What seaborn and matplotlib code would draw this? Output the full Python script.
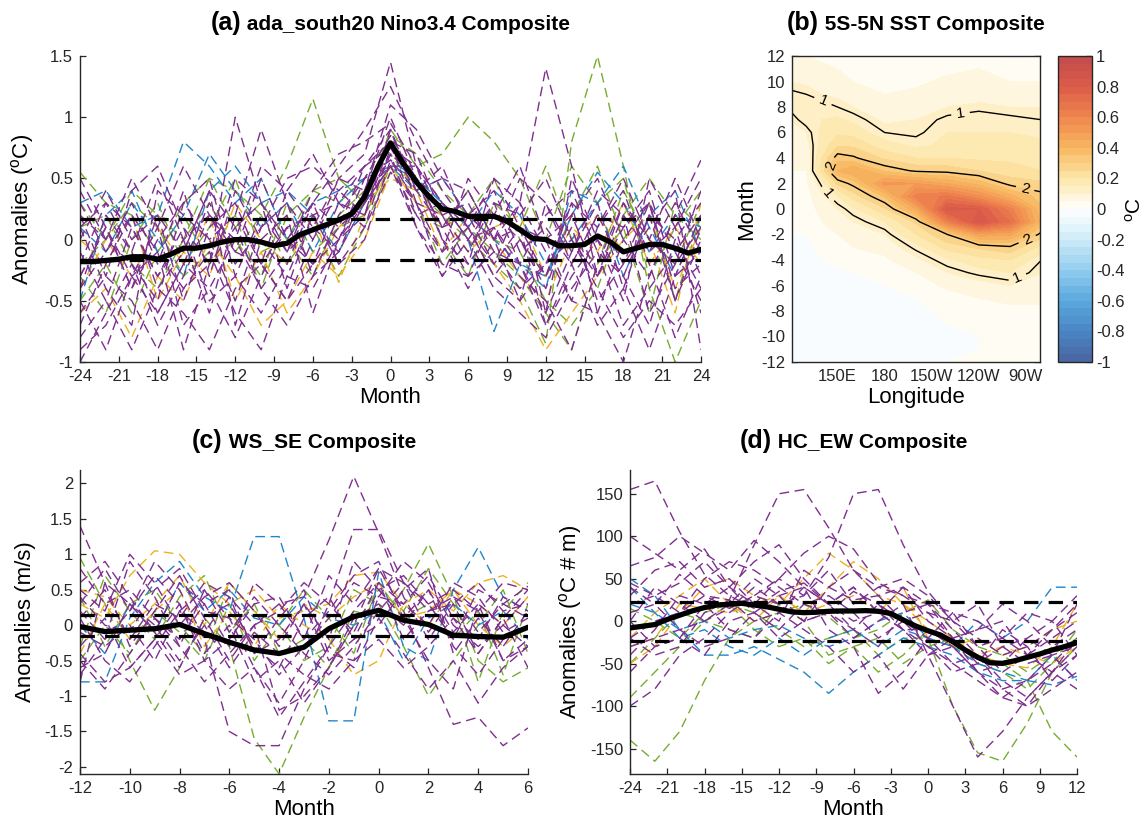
import numpy as np
import pandas as pd
import matplotlib
matplotlib.use("Agg")
import matplotlib.pyplot as plt
import seaborn as sns
from matplotlib.colors import LinearSegmentedColormap, ListedColormap, BoundaryNorm
from matplotlib.offsetbox import TextArea, HPacker, AnchoredOffsetbox
from matplotlib.ticker import FuncFormatter

# ---------------- colours ----------------
PURPLE = "#7e2f8e"
GREEN = "#77ac30"
ORANGE = "#edb120"
BLUE = "#1f86cc"

# ---------------- panel (a) data ----------------
a_months = list(range(-24, 25, 2))
a_purple = [
    [-0.3, 0.1, -0.4, 0.2, -0.5, 0.1, 0.3, -0.2, 0.4, 0.1, 0.5, 0.7, 1.45, 0.6, 0.2, -0.1, 0.3, -0.2, -0.6, -0.1, 0.3, -0.4, 0.2, -0.5, 0.1],
    [-1.0, -0.6, -0.2, -0.7, -0.3, 0.2, -0.1, 0.5, 0.0, 0.3, 0.6, 0.9, 1.25, 0.8, 0.4, 0.1, -0.2, 0.3, 1.4, 0.6, -0.3, 0.2, -0.6, -0.2, 0.4],
    [0.2, -0.3, 0.4, 0.6, 0.1, -0.2, 1.0, 0.3, -0.4, 0.2, 0.0, 0.4, 1.1, 0.9, 0.5, 0.4, 0.0, -0.5, -0.2, 0.3, -0.6, -1.0, -0.3, 0.2, 0.65],
    [-0.5, -0.9, -0.3, 0.1, -0.7, -0.4, -0.8, -0.3, 0.1, -0.2, 0.3, 0.2, 0.9, 0.3, -0.1, 0.5, 0.2, 0.6, 0.0, -0.5, 0.1, 0.4, -0.2, -0.8, -0.3],
    [0.4, 0.0, -0.2, -0.5, 0.3, 0.5, -0.3, -0.6, -0.2, 0.3, 0.1, 0.6, 0.75, 0.4, 0.6, 0.1, -0.3, 0.0, -0.4, 0.2, 0.5, 0.0, 0.3, -0.4, -0.2],
    [-0.2, 0.3, 0.1, -0.3, 0.0, -0.6, 0.2, 0.9, 0.3, -0.3, 0.2, 0.5, 0.85, 0.5, 0.0, -0.2, 0.5, 0.1, -0.7, -0.3, 0.0, -0.5, 0.5, 0.1, -0.6],
    [-0.7, -0.2, 0.2, -0.1, -0.9, -0.2, 0.1, -0.4, -0.7, -0.3, -0.1, 0.3, 0.6, 0.2, 0.3, 0.0, 0.1, -0.3, -0.5, -0.9, -0.2, 0.3, -0.1, 0.3, -0.1],
    [0.1, -0.4, -0.7, 0.4, 0.2, 0.0, -0.5, 0.1, 0.5, 0.6, 0.4, 0.6, 0.8, 0.7, 0.2, 0.3, -0.1, -0.2, 0.2, 0.4, -0.1, -0.3, -0.7, 0.0, 0.3],
    [-0.4, 0.2, -0.1, -0.6, -0.2, 0.3, -0.1, -0.2, -0.5, 0.0, 0.4, 0.2, 0.7, 0.1, -0.2, -0.3, 0.2, 0.0, -0.3, 0.1, -0.5, -0.2, 0.1, 0.4, -0.9],
    [0.3, -0.1, 0.3, -0.2, 0.4, -0.3, 0.4, 0.0, 0.2, -0.6, 0.0, 0.5, 0.65, 0.4, 0.1, 0.2, 0.4, -0.1, 0.1, -0.2, 0.2, 0.1, 0.4, -0.3, 0.2],
    [-0.6, -0.3, -0.5, -0.9, -0.4, -0.1, -0.6, -0.9, -0.3, 0.2, -0.2, 0.1, 0.55, 0.3, -0.3, 0.0, -0.4, -0.6, -0.8, -0.4, -0.1, -0.7, -0.4, -0.1, -0.5],
    [0.0, 0.4, 0.0, 0.2, -0.1, 0.4, 0.1, 0.3, -0.1, 0.4, 0.7, 0.8, 0.95, 0.6, 0.3, 0.0, 0.3, 0.2, 0.5, 0.0, -0.3, 0.3, 0.0, 0.5, 0.0],
    [-0.8, -0.5, -0.9, -0.4, -0.6, -0.9, -0.4, -0.2, -0.5, -0.2, 0.1, 0.3, 0.7, 0.5, 0.1, -0.3, -0.1, -0.4, -0.2, 0.0, -0.4, -0.8, -0.5, -0.7, -0.4],
    [0.2, 0.0, 0.5, 0.1, 0.6, 0.2, 0.0, 0.6, 0.4, 0.7, 0.3, 0.6, 0.9, 0.4, 0.5, 0.2, 0.0, 0.5, 0.3, -0.1, 0.4, 0.2, -0.1, 0.1, 0.5],
    [-0.1, -0.5, 0.1, -0.3, 0.1, -0.5, -0.3, 0.2, -0.1, 0.1, -0.1, 0.4, 0.6, 0.6, 0.0, -0.4, 0.0, 0.3, -0.1, -0.5, -0.6, 0.0, -0.3, 0.2, -0.3],
    [-0.3, 0.1, -0.4, 0.0, 0.3, 0.0, 0.2, -0.2, 0.1, 0.2, 0.3, 0.1, 0.75, 0.6, 0.3, 0.1, -0.3, -0.5, 0.3, -0.2, 0.2, -0.2, 0.3, -0.1, 0.2],
    [0.5, 0.1, -0.3, -0.1, -0.4, -0.2, 0.5, 0.3, 0.0, -0.2, 0.0, 0.2, 0.8, 0.2, -0.1, 0.1, 0.5, 0.3, -0.6, 0.5, 0.0, -0.3, 0.2, 0.0, -0.4],
    [-0.9, -0.7, -0.3, -0.6, -0.2, -0.4, 0.0, -0.4, -0.1, 0.3, -0.2, 0.0, 0.65, 0.3, 0.2, -0.2, 0.1, -0.2, -0.7, -0.2, -0.7, -0.4, -0.9, -0.3, -0.1],
    [0.1, 0.3, -0.1, 0.5, 0.0, 0.2, -0.2, 0.1, 0.3, 0.0, 0.5, 0.4, 1.0, 0.5, 0.1, 0.4, 0.0, 0.1, -0.3, 0.3, 0.1, 0.5, 0.0, -0.2, 0.1],
    [-0.4, -0.1, 0.2, -0.4, -0.1, 0.4, -0.7, 0.0, -0.3, -0.4, 0.0, 0.3, 0.6, 0.1, -0.3, 0.2, -0.2, 0.1, 0.0, 0.2, -0.3, 0.1, 0.3, -0.5, 0.0],
]
a_green = [
    [0.55, 0.3, 0.2, -0.1, 0.3, 0.5, 0.4, 0.2, 0.6, 1.15, 0.5, 0.3, 0.9, 0.6, 0.7, 1.0, 0.8, 0.5, 0.0, 0.6, 0.3, 0.5, -0.3, 0.1, 0.4],
    [-0.3, -0.6, 0.0, 0.3, -0.2, 0.1, 0.5, -0.1, 0.0, -0.3, 0.2, 0.4, 0.7, 0.4, 0.2, 0.0, -0.2, -0.4, -0.85, 0.8, 1.5, 0.6, -0.4, -1.0, -0.5],
    [0.1, 0.2, -0.2, -0.4, 0.0, 0.3, -0.1, 0.2, -0.2, 0.1, -0.3, 0.1, 0.6, 0.2, 0.1, 0.4, 0.0, -0.1, -0.5, -0.7, -0.4, 0.2, 0.5, 0.2, 0.0],
    [-0.2, 0.0, 0.3, 0.1, -0.3, -0.1, 0.2, -0.4, 0.2, 0.4, 0.5, 0.3, 0.8, 0.5, 0.0, -0.3, 0.3, 0.1, 0.6, 0.0, -0.2, 0.4, 0.0, -0.2, 0.3],
    [0.3, 0.0, 0.4, 0.2, 0.0, 0.5, 0.1, 0.3, 0.0, 0.4, 0.3, 0.5, 0.85, 0.7, 0.4, 0.2, 0.5, 0.0, -0.3, 0.2, 0.6, 0.0, 0.3, -0.5, 0.2],
    [-0.5, -0.2, -0.6, -0.1, 0.2, -0.2, 0.0, -0.3, 0.3, -0.1, 0.1, 0.2, 0.6, 0.3, -0.2, 0.1, -0.1, -0.3, -0.6, -0.9, -0.2, 0.1, -0.6, 0.3, 0.1],
]
a_blue = [
    [0.3, 0.4, 0.1, 0.2, 0.8, 0.6, 0.3, 0.5, 0.0, 0.3, 0.4, 0.5, 0.65, 0.5, 0.3, 0.0, -0.75, -0.2, -0.3, 0.2, 0.55, 0.3, -0.1, 0.2, 0.1],
    [-0.5, 0.2, 0.4, -0.1, 0.2, 0.7, 0.4, 0.1, 0.3, -0.1, 0.3, 0.5, 0.6, 0.5, 0.3, 0.1, 0.4, 0.2, -0.2, 0.0, 0.3, 0.6, 0.1, -0.3, 0.2],
    [0.1, -0.1, 0.3, 0.0, -0.3, 0.4, 0.6, 0.3, 0.4, 0.2, -0.1, 0.3, 0.6, 0.4, 0.5, 0.2, 0.0, -0.2, -0.4, 0.4, 0.3, -0.3, 0.2, 0.4, -0.1],
]
a_orange = [
    [-0.6, -0.4, -0.8, -0.3, -0.5, 0.0, -0.3, -0.7, -0.5, -0.1, -0.3, 0.0, 0.55, 0.5, 0.1, 0.2, -0.2, -0.5, -0.9, -0.6, -0.3, 0.0, 0.2, -0.4, 0.1],
    [0.0, -0.2, 0.2, -0.5, -0.1, -0.3, 0.3, 0.0, -0.2, 0.2, -0.35, 0.2, 0.6, 0.3, 0.2, -0.1, 0.1, 0.2, -0.3, 0.1, -0.1, 0.3, -0.2, 0.1, -0.2],
    [-0.4, 0.0, -0.3, 0.1, -0.2, 0.2, -0.5, -0.1, -0.6, -0.3, 0.1, 0.3, 0.5, 0.4, -0.1, 0.2, 0.0, -0.3, -0.5, 0.0, 0.2, -0.1, 0.0, -0.6, 0.3],
]
a_comp_months = list(range(-24, 25))
a_comp = [-0.18, -0.18, -0.17, -0.16, -0.14, -0.14, -0.16, -0.12, -0.07, -0.07, -0.05, -0.02,
          0.0, 0.0, -0.02, -0.05, -0.03, 0.04, 0.08, 0.12, 0.16, 0.21, 0.35, 0.59,
          0.79, 0.62, 0.47, 0.35, 0.25, 0.23, 0.19, 0.19, 0.19, 0.15, 0.08, 0.01,
          0.0, -0.05, -0.05, -0.04, 0.03, -0.02, -0.1, -0.07, -0.04, -0.04, -0.07, -0.11, -0.08]
a_thresh = [0.17, -0.17]
a_xticks = list(range(-24, 25, 3))
a_yticks = [-1, -0.5, 0, 0.5, 1, 1.5]

# ---------------- panel (b) data ----------------
b_lon = [120, 130, 140, 150, 160, 180, 200, 220, 240, 260, 280]
b_month = list(range(-12, 13))
b_sst_by_lon = [
    [-0.03, -0.03, -0.04, -0.04, -0.03, -0.03, -0.03, -0.03, -0.02, -0.02, 0.00, 0.01, 0.02, 0.03, 0.04, 0.05, 0.06, 0.07, 0.08, 0.10, 0.13, 0.13, 0.10, 0.07, 0.05],
    [-0.03, -0.04, -0.04, -0.04, -0.04, -0.03, -0.03, -0.03, -0.02, -0.01, 0.00, 0.01, 0.02, 0.03, 0.04, 0.05, 0.06, 0.08, 0.10, 0.14, 0.15, 0.12, 0.09, 0.07, 0.05],
    [-0.02, -0.03, -0.04, -0.04, -0.03, -0.03, -0.02, -0.02, 0.00, 0.01, 0.03, 0.05, 0.07, 0.09, 0.13, 0.22, 0.20, 0.17, 0.16, 0.15, 0.14, 0.10, 0.08, 0.06, 0.04],
    [-0.02, -0.03, -0.03, -0.04, -0.03, -0.02, -0.02, -0.01, 0.01, 0.03, 0.05, 0.08, 0.10, 0.15, 0.26, 0.40, 0.33, 0.24, 0.19, 0.16, 0.12, 0.09, 0.07, 0.05, 0.03],
    [-0.02, -0.02, -0.03, -0.03, -0.03, -0.02, -0.01, 0.00, 0.02, 0.05, 0.08, 0.10, 0.14, 0.22, 0.32, 0.45, 0.31, 0.24, 0.18, 0.14, 0.10, 0.07, 0.05, 0.04, 0.03],
    [-0.01, -0.02, -0.02, -0.02, -0.02, -0.01, 0.00, 0.02, 0.04, 0.07, 0.10, 0.15, 0.24, 0.36, 0.52, 0.34, 0.24, 0.17, 0.12, 0.09, 0.07, 0.05, 0.04, 0.03, 0.02],
    [-0.01, -0.01, -0.02, -0.02, -0.01, 0.00, 0.02, 0.05, 0.09, 0.13, 0.20, 0.26, 0.45, 0.62, 0.50, 0.29, 0.20, 0.14, 0.11, 0.10, 0.08, 0.06, 0.04, 0.03, 0.02],
    [0.00, -0.01, -0.01, 0.00, 0.01, 0.03, 0.06, 0.10, 0.14, 0.22, 0.30, 0.62, 0.82, 0.66, 0.45, 0.28, 0.20, 0.16, 0.15, 0.13, 0.10, 0.08, 0.06, 0.04, 0.03],
    [0.01, 0.00, 0.00, 0.01, 0.03, 0.05, 0.08, 0.13, 0.18, 0.26, 0.48, 0.84, 0.80, 0.56, 0.38, 0.25, 0.19, 0.16, 0.15, 0.14, 0.11, 0.08, 0.06, 0.05, 0.04],
    [0.02, 0.01, 0.01, 0.02, 0.04, 0.06, 0.10, 0.15, 0.20, 0.29, 0.46, 0.70, 0.62, 0.42, 0.28, 0.22, 0.19, 0.17, 0.15, 0.13, 0.10, 0.07, 0.05, 0.02, -0.01],
    [0.02, 0.02, 0.02, 0.03, 0.04, 0.06, 0.08, 0.10, 0.12, 0.18, 0.28, 0.38, 0.36, 0.32, 0.26, 0.20, 0.18, 0.16, 0.14, 0.12, 0.10, 0.07, 0.05, 0.02, 0.00],
]
b_contour_levels = [0.12, 0.3]
b_contour_names = ["1", "2"]
b_xticks = [150, 180, 210, 240, 270]
b_xticklabels = ["150E", "180", "150W", "120W", "90W"]
b_yticks = list(range(-12, 13, 2))
b_cbar_ticks = [-1, -0.8, -0.6, -0.4, -0.2, 0, 0.2, 0.4, 0.6, 0.8, 1]

# ---------------- panel (c) data ----------------
c_months = list(range(-12, 7))
c_purple = [
    [1.4, 0.6, -0.3, 0.2, 0.7, 0.1, -0.5, 0.0, 0.3, 0.4, 1.2, 2.1, 1.3, 0.4, -0.2, 0.3, -0.4, 0.1, 0.5],
    [-0.7, -0.2, 0.9, 0.4, -0.3, 0.5, 0.1, -0.6, -1.1, -0.5, 0.3, 1.35, 1.35, 0.6, -0.1, 0.4, 0.2, -0.5, -0.3],
    [0.3, 0.8, 0.2, 0.9, 0.5, -0.2, -1.5, -1.7, -1.7, -0.9, -0.3, 0.2, 0.6, 0.3, 0.7, 0.1, -0.2, 0.4, 0.2],
    [-0.5, -0.9, -0.4, 0.1, -0.3, -0.8, -0.4, 0.0, -1.2, -1.0, -0.6, 0.0, 0.8, 0.2, -0.6, -1.4, -1.3, -1.7, -1.45],
    [0.5, 0.2, 1.0, 0.6, 0.0, 0.4, 0.6, 0.2, -0.3, 0.3, -0.2, 0.9, 0.5, 0.7, 0.3, -0.2, 0.5, 0.3, 0.55],
    [-0.3, 0.1, -0.6, -0.2, 0.3, -0.4, 0.0, -0.8, -0.5, -1.1, -0.6, 0.1, 0.3, 0.0, 0.5, -0.3, -0.7, -0.2, 0.0],
    [0.1, -0.5, -0.8, -0.3, 0.2, 0.5, -0.1, 0.4, 0.0, -0.4, -0.7, -0.3, 0.2, 0.6, 0.3, 0.5, 0.2, 0.6, 0.5],
    [-0.8, 0.6, 0.3, -0.1, -0.6, 0.1, 0.3, -0.3, -0.6, 0.1, 0.4, -0.2, 0.0, 0.5, 0.8, -0.4, 0.1, -0.3, 0.2],
    [0.2, -0.2, 0.2, 0.7, 0.3, -0.5, -0.2, 0.3, 0.4, -0.2, 0.2, 0.7, 0.9, 0.1, -0.5, -0.9, 0.3, 0.0, -0.3],
    [0.6, 0.9, 0.4, -0.1, 0.6, 0.3, 0.5, -0.4, 0.1, 0.5, -0.4, -0.5, 0.4, 0.3, 0.0, 0.6, 0.4, -0.1, 0.1],
    [-0.4, -0.8, -0.6, -0.2, -0.7, -0.5, -0.9, -0.6, -1.3, -0.8, -0.3, -0.6, 0.1, -0.4, -0.9, -0.5, -1.1, -0.6, -0.3],
    [0.8, 0.3, 0.5, 0.1, -0.2, 0.3, -0.3, 0.6, 0.3, -0.2, 0.7, 0.3, 0.8, 0.6, 0.2, 0.4, -0.1, 0.3, 0.1],
    [-0.1, -0.3, 0.0, -0.5, 0.2, -0.1, 0.4, -0.4, -0.2, 0.3, -0.5, -0.2, 0.5, 0.1, 0.5, -0.1, 0.3, -0.5, -0.2],
    [0.4, 0.0, -0.1, 0.5, 0.8, 0.2, 0.1, -0.2, -0.7, -0.3, 0.1, 0.6, 0.4, 0.9, 0.6, 0.0, -0.3, 0.0, 0.4],
    [-0.6, -0.4, 0.3, 0.0, -0.5, 0.0, -0.6, -0.1, -0.4, -0.7, -0.9, -0.5, -0.2, -0.6, -0.3, 0.1, -0.4, 0.1, -0.6],
    [0.1, 0.5, -0.2, 0.3, 0.1, 0.6, 0.4, 0.0, 0.2, 0.6, 0.3, -0.1, 0.6, -0.2, 0.2, 0.3, 0.6, 0.2, 0.3],
]
c_green = [
    [0.95, 0.3, -0.5, -1.2, -0.6, 0.1, -0.3, -1.6, -2.1, -1.3, -0.6, 0.2, 0.1, 0.5, 1.15, 0.4, -0.5, -0.8, -0.6],
    [-0.3, 0.7, 0.2, -0.2, 0.4, 0.7, -0.1, 0.3, -0.4, -0.2, -0.6, 0.0, 0.5, 0.2, 0.8, 0.3, -0.8, 0.2, 0.6],
    [0.4, -0.3, 0.3, 0.5, 0.0, -0.4, 0.6, 0.2, 0.0, -0.5, -0.3, 0.5, 0.3, -0.3, -1.0, -0.5, 0.0, 0.5, -0.4],
    [-0.5, 0.0, -0.4, 0.2, -0.1, -0.5, 0.3, -0.5, 0.0, 0.5, 0.1, -0.4, 0.6, 0.1, 0.3, -0.2, 0.2, -0.7, 0.3],
]
c_blue = [
    [-0.8, -0.8, 0.1, 0.6, 0.9, 0.4, 0.2, 1.25, 1.25, 0.1, -1.35, -1.35, 0.75, -0.3, -0.5, 0.5, 1.1, 0.4, 0.2],
    [0.0, -0.4, 0.3, -0.1, 0.6, 0.2, 0.5, 0.1, 0.0, 0.4, 0.1, 0.0, 0.2, -0.5, 0.1, 0.3, 0.0, 0.2, -0.2],
]
c_orange = [
    [0.3, 0.1, 0.7, 1.05, 1.0, 0.6, 0.3, 0.5, 0.1, 0.2, 0.3, 0.7, 0.75, 0.3, 0.5, 0.2, 0.6, 0.7, 0.5],
    [-0.4, 0.3, -0.2, 0.2, 0.5, -0.3, 0.2, -0.3, 0.3, 0.0, -0.2, -0.7, -0.5, 0.3, 0.0, 0.5, 0.0, -0.3, 0.0],
    [0.5, 0.4, 0.0, 0.3, 0.7, 0.0, 0.6, 0.2, -0.2, 0.3, 0.1, 0.4, 0.6, 0.1, 0.2, 0.5, 0.3, 0.0, 0.4],
]
c_comp = [-0.02, -0.09, -0.07, -0.05, 0.01, -0.12, -0.24, -0.35, -0.4, -0.31, -0.05, 0.12, 0.21, 0.07, 0.01, -0.14, -0.16, -0.17, -0.03]
c_thresh = [0.14, -0.15]
c_xticks = list(range(-12, 7, 2))
c_yticks = [-2, -1.5, -1, -0.5, 0, 0.5, 1, 1.5, 2]

# ---------------- panel (d) data ----------------
d_months = list(range(-24, 13, 2))
d_purple = [
    [155, 165, 105, 55, 30, 15, 35, 45, 20, 40, 10, -10, -40, -30, -60, -80, -70, -50, -20],
    [40, 20, 55, 30, 25, 90, 150, 155, 110, 60, 30, 0, -20, -50, -40, -70, -90, -60, -30],
    [-20, 0, 10, 30, 15, 40, 20, 30, 75, 150, 155, 90, 35, 0, -30, -20, 10, 0, -40],
    [20, 30, 10, 50, 70, 60, 40, 20, 10, -20, 0, 20, -40, -100, -160, -130, -90, -60, -80],
    [65, 75, 100, 80, 60, 95, 70, 40, 20, -10, -30, 10, 20, -20, -50, -10, -30, -70, -40],
    [-100, -80, -40, -20, 10, 30, 50, 80, 100, 85, 45, 30, 20, -10, -40, -80, -100, -80, -60],
    [10, 20, -10, -30, -20, 10, 30, 40, -10, -30, -85, -60, -20, 10, 0, -20, -40, -10, 20],
    [45, 30, 45, 70, 40, 20, 50, 30, 60, 20, 40, 30, 10, -20, -10, 20, 0, -30, -10],
    [-30, -20, -10, 0, 15, 30, 20, 0, 10, 35, 20, -10, -30, -60, -50, -30, -20, 0, 30],
    [0, -30, -20, 20, 40, 10, -10, 20, 30, 10, -20, 0, 10, 0, 20, -30, -50, -40, 20],
    [100, 80, 60, 85, 40, 70, 90, 50, 20, 40, 10, -10, -10, -30, -60, -50, -20, -40, -70],
    [-40, -10, 30, 20, -10, -20, 10, -10, -30, -60, -40, -80, -40, -20, -60, -90, -100, -60, -40],
    [30, 60, 70, 40, 50, 20, 0, 60, 40, 60, 40, 50, 30, 0, -20, -40, -30, -10, 10],
    [-60, -30, -20, -40, 0, 10, -20, 0, 10, -10, 20, 0, -30, -50, -70, -90, -70, -40, -30],
    [0, 40, 20, 0, 20, 50, 30, 0, 40, 25, 30, 40, 20, 10, -30, -60, -40, -20, 0],
    [-20, -40, -30, 10, 25, 0, 10, 40, 20, 0, 10, 40, 0, -20, -10, 0, -40, -60, -20],
]
d_green = [
    [-140, -165, -130, -70, -20, 0, 10, 20, 5, -20, -10, 10, 25, -10, -30, -40, -60, -40, -20],
    [-90, -60, -30, 0, 20, 10, -10, -30, -20, -10, -40, -20, -20, -100, -155, -165, -120, -60, -30],
    [15, 0, -20, 10, 20, -10, -30, -20, -50, -30, -60, -40, -10, -30, -40, -50, -70, -130, -160],
    [-50, -20, 10, 0, -10, -20, 20, 0, -40, -30, -20, -50, -30, -20, -50, -60, -80, -50, -10],
]
d_blue = [
    [50, 30, -10, -40, -40, -30, -45, -60, -85, -60, -40, -20, -30, -40, -60, -70, -70, -75, -65],
    [20, 10, -10, 0, -20, -10, -5, -20, -30, -20, 0, 10, -20, -30, 0, -20, 0, 40, 40],
    [40, 10, -20, -10, -30, -40, -20, -40, -20, -10, -30, -10, -20, -30, -50, -60, -70, -40, -70],
]
d_orange = [
    [-50, -30, 10, 40, 50, 30, 20, 50, 80, 60, 30, 20, -10, -30, -40, -50, -55, -30, 20],
    [-30, -20, 20, 15, 10, 20, 30, 10, 20, 30, 10, 40, -20, -30, -20, -40, -30, -10, 0],
    [-20, 10, 30, 50, 20, 0, 30, 10, 40, 70, 50, 20, 0, -20, -40, -30, -40, -50, -30],
]
d_comp_months = list(range(-24, 13))
d_comp = [-8, -6, -4, 2, 7, 12, 16, 19, 20, 21, 19, 17, 14, 11, 10, 10.5, 11.6, 12, 12, 12.4, 11.6,
          9, 1.4, -5.7, -11.3, -16.3, -24.2, -34, -42.6, -49, -49.7, -46.6, -42.6, -38.7, -34, -30, -25.3]
d_thresh = [22, -23]
d_xticks = list(range(-24, 13, 3))
d_yticks = [-150, -100, -50, 0, 50, 100, 150]

# ---------------- style ----------------
sns.set_theme(style="ticks")
plt.rcParams.update({
    "font.family": ["Liberation Sans", "DejaVu Sans"],
    "mathtext.fontset": "custom",
    "mathtext.rm": "Liberation Sans",
    "mathtext.it": "Liberation Sans:italic",
    "mathtext.bf": "Liberation Sans:bold",
    "axes.unicode_minus": False,
    "axes.edgecolor": "#262626",
    "axes.linewidth": 1.0,
    "xtick.direction": "in",
    "ytick.direction": "in",
    "xtick.color": "#262626",
    "ytick.color": "#262626",
    "text.color": "black",
    "axes.labelcolor": "black",
})

TICK_FS = 12
LABEL_FS = 16

W, H = 1148, 824
fig = plt.figure(figsize=(W / 100, H / 100), dpi=100)


def add_ax(l, t, r, b):
    return fig.add_axes([l / W, 1 - b / H, (r - l) / W, (b - t) / H])


axA = add_ax(80, 56, 701, 362)
axB = add_ax(792, 56, 1040, 362)
cax = add_ax(1058, 56, 1092, 362)
axC = add_ax(80, 470, 528, 774)
axD = add_ax(630, 470, 1077, 774)

gfmt = FuncFormatter(lambda v, p: f"{round(v, 6):g}")


def panel_title(ax, tag, text, off):
    t1 = TextArea(tag, textprops=dict(fontsize=18, fontweight="bold", color="black"))
    t2 = TextArea(" " + text, textprops=dict(fontsize=15, fontweight="bold", color="black"))
    box = HPacker(children=[t1, t2], align="baseline", pad=0, sep=0)
    anc = AnchoredOffsetbox(loc="lower center", child=box, pad=0, borderpad=0, frameon=False,
                            bbox_to_anchor=(0.5, 1 + off), bbox_transform=ax.transAxes)
    ax.add_artist(anc)


def draw_spaghetti(ax, months, groups, comp_months, comp, thresh):
    rows, pal = [], {}
    k = 0
    for color, series_list in groups:
        for s in series_list:
            name = f"m{k}"
            pal[name] = color
            k += 1
            for m, v in zip(months, s):
                rows.append((name, m, v))
    df = pd.DataFrame(rows, columns=["member", "month", "value"])
    sns.lineplot(data=df, x="month", y="value", hue="member", palette=pal,
                 hue_order=list(pal), legend=False, estimator=None, sort=False,
                 linewidth=1.0, linestyle=(0, (7, 4)), ax=ax)
    for t in thresh:
        ax.axhline(t, color="black", lw=2.3, ls=(0, (4.5, 3.2)), zorder=5)
    sns.lineplot(x=comp_months, y=comp, color="black", linewidth=3.8, ax=ax, zorder=6)
    sns.despine(ax=ax)
    ax.tick_params(direction="in", length=4, width=0.9, labelsize=TICK_FS, pad=5)
    ax.yaxis.set_major_formatter(gfmt)
    ax.xaxis.set_major_formatter(gfmt)


# ---- (a)
draw_spaghetti(axA, a_months,
               [(GREEN, a_green), (ORANGE, a_orange), (BLUE, a_blue), (PURPLE, a_purple)],
               a_comp_months, a_comp, a_thresh)
axA.set_xlim(-24, 24)
axA.set_ylim(-1, 1.5)
axA.set_xticks(a_xticks)
axA.set_yticks(a_yticks)
axA.set_xlabel("Month", fontsize=LABEL_FS, labelpad=2)
axA.set_ylabel("Anomalies ($^{\\rm o}$C)", fontsize=LABEL_FS, labelpad=6)
panel_title(axA, "(a)", "ada_south20 Nino3.4 Composite", 0.07)

# ---- (b)
Z = np.array(b_sst_by_lon).T
nodes = [(-1.0, "#4a64a0"), (-0.8, "#4a86c5"), (-0.6, "#5aa8de"), (-0.4, "#93cdef"),
         (-0.2, "#cdebf8"), (0.0, "#ffffff"), (0.2, "#fde7a8"), (0.4, "#f8b760"),
         (0.6, "#f0874e"), (0.8, "#dc5c4a"), (1.0, "#c24b4b")]
base = LinearSegmentedColormap.from_list("rb", [((v + 1) / 2, c) for v, c in nodes])
levels = np.linspace(-1, 1, 41)
centers = (levels[:-1] + levels[1:]) / 2
cmap = ListedColormap(base((centers + 1) / 2))
norm = BoundaryNorm(levels, cmap.N)
cf = axB.contourf(b_lon, b_month, Z, levels=levels, cmap=cmap, norm=norm)
cs = axB.contour(b_lon, b_month, Z, levels=b_contour_levels, colors="black", linewidths=1.0)
axB.clabel(cs, fmt=dict(zip(b_contour_levels, b_contour_names)), fontsize=11, inline=True,
           manual=[(141.5, 8.7), (228, 7.8), (144, 1.2), (264, -5.2), (143, 3.5), (272, 3.0), (272, -2.7)])
axB.set_xlim(121, 279)
axB.set_ylim(-12, 12)
axB.set_xticks(b_xticks)
axB.set_xticklabels(b_xticklabels)
axB.set_yticks(b_yticks)
axB.yaxis.set_major_formatter(gfmt)
axB.tick_params(direction="in", length=4, width=0.9, labelsize=TICK_FS, top=True, right=True, pad=5)
for s in axB.spines.values():
    s.set_visible(True)
axB.set_xlabel("Longitude", fontsize=LABEL_FS, labelpad=2)
axB.set_ylabel("Month", fontsize=LABEL_FS, labelpad=3)
panel_title(axB, "(b)", "5S-5N SST Composite", 0.07)

cb = fig.colorbar(cf, cax=cax, ticks=b_cbar_ticks)
cb.ax.yaxis.set_major_formatter(gfmt)
cb.ax.tick_params(direction="in", length=4, width=0.9, labelsize=TICK_FS, pad=3)
cb.outline.set_linewidth(1.0)
cb.set_label("$^{\\rm o}$C", fontsize=15, rotation=90, labelpad=0)

# ---- (c)
draw_spaghetti(axC, c_months,
               [(GREEN, c_green), (ORANGE, c_orange), (BLUE, c_blue), (PURPLE, c_purple)],
               c_months, c_comp, c_thresh)
axC.set_xlim(-12, 6)
axC.set_ylim(-2.1, 2.19)
axC.set_xticks(c_xticks)
axC.set_yticks(c_yticks)
axC.set_xlabel("Month", fontsize=LABEL_FS, labelpad=2)
axC.set_ylabel("Anomalies (m/s)", fontsize=LABEL_FS, labelpad=6)
panel_title(axC, "(c)", "WS_SE Composite", 0.055)

# ---- (d)
draw_spaghetti(axD, d_months,
               [(GREEN, d_green), (ORANGE, d_orange), (BLUE, d_blue), (PURPLE, d_purple)],
               d_comp_months, d_comp, d_thresh)
axD.set_xlim(-24, 12)
axD.set_ylim(-180, 178)
axD.set_xticks(d_xticks)
axD.set_yticks(d_yticks)
axD.set_xlabel("Month", fontsize=LABEL_FS, labelpad=2)
axD.set_ylabel("Anomalies ($^{\\rm o}$C # m)", fontsize=LABEL_FS, labelpad=4)
panel_title(axD, "(d)", "HC_EW Composite", 0.055)

fig.savefig("out.png", dpi=100)
